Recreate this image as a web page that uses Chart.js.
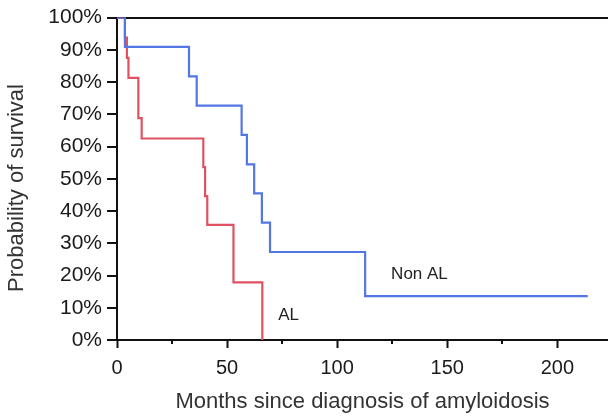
<!DOCTYPE html>
<html>
<head>
<meta charset="utf-8">
<script src="https://cdn.jsdelivr.net/npm/chart.js@4/dist/chart.umd.min.js"></script>
<style>
  html, body { margin: 0; padding: 0; background: #fff; }
  #wrap { width: 608px; height: 419px; position: relative; }
</style>
</head>
<body>
<div id="wrap"><canvas id="kmChart"></canvas></div>
<script>
// Kaplan-Meier steps (months, survival %)
const nonAlMonths   = [0, 3.6, 32.7, 36.2, 56.6, 59.0, 62.3, 65.8, 69.5, 112.7, 213.8];
const nonAlSurvival = [100, 90.9, 81.8, 72.7, 63.6, 54.5, 45.5, 36.4, 27.3, 13.6, 13.6];
const alMonths      = [0, 3.6, 4.5, 5.2, 9.7, 11.2, 39.2, 40.0, 41.0, 52.9, 66.0];
const alSurvival    = [100, 93.8, 87.5, 81.3, 68.8, 62.5, 53.6, 44.6, 35.7, 17.9, 0];

// Axis ticks
const xMajorTicks = [0, 50, 100, 150, 200];
const xMinorTicks = [25, 75, 125, 175];
const yTickValues = [0, 10, 20, 30, 40, 50, 60, 70, 80, 90, 100];

// Curve labels (months, survival %)
const curveLabels = [
    { text: 'Non AL', x: 124.5, y: 20.5 },
    { text: 'AL', x: 73.2, y: 7.8 }
];

const FONT = '"Liberation Sans", Arial, sans-serif';
const INK = '#111';

const toPoints = (xs, ys) => xs.map((x, i) => ({ x, y: ys[i] }));

// Minor x ticks + text labels near the curves
const extrasPlugin = {
    id: 'kmExtras',
    afterDraw(chart) {
        const { ctx, scales: { x, y } } = chart;
        ctx.save();
        ctx.strokeStyle = INK;
        ctx.lineWidth = 2;
        xMinorTicks.forEach(v => {
            const px = Math.round(x.getPixelForValue(v));
            ctx.beginPath();
            ctx.moveTo(px, y.bottom);
            ctx.lineTo(px, y.bottom + 4);
            ctx.stroke();
        });
        ctx.font = `17px ${FONT}`;
        ctx.fillStyle = '#222';
        ctx.textBaseline = 'middle';
        curveLabels.forEach(l => {
            ctx.fillText(l.text, x.getPixelForValue(l.x), y.getPixelForValue(l.y));
        });
        ctx.restore();
    }
};

// Chart.js Setup
function initChart() {
    const ctx = document.getElementById('kmChart').getContext('2d');
    return new Chart(ctx, {
        type: 'line',
        data: {
            datasets: [
                {
                    label: 'Non AL',
                    data: toPoints(nonAlMonths, nonAlSurvival),
                    borderColor: 'rgb(82, 118, 228)',
                    borderWidth: 2.2,
                    stepped: 'before',
                    pointRadius: 0,
                    fill: false
                },
                {
                    label: 'AL',
                    data: toPoints(alMonths, alSurvival),
                    borderColor: 'rgb(222, 82, 98)',
                    borderWidth: 2.2,
                    stepped: 'before',
                    pointRadius: 0,
                    fill: false
                }
            ]
        },
        options: {
            responsive: true,
            maintainAspectRatio: false,
            animation: false,
            layout: { padding: { top: 16, right: 0, left: 0, bottom: 0 } },
            plugins: {
                legend: { display: false },
                tooltip: { enabled: false }
            },
            scales: {
                x: {
                    type: 'linear',
                    min: 0,
                    max: 223,
                    afterBuildTicks: s => { s.ticks = xMajorTicks.map(v => ({ value: v })); },
                    ticks: { color: '#1a1a1a', font: { size: 20, family: FONT }, padding: 8, maxRotation: 0 },
                    grid: { drawOnChartArea: false, tickLength: 8, tickColor: INK, tickWidth: 2 },
                    border: { color: INK, width: 2 },
                    title: {
                        display: true,
                        text: 'Months since diagnosis of amyloidosis',
                        color: '#333',
                        font: { size: 22, family: FONT },
                        padding: { top: 0, bottom: 4 }
                    },
                    afterFit: s => { s.height = 79; }
                },
                y: {
                    min: 0,
                    max: 100,
                    afterBuildTicks: s => { s.ticks = yTickValues.map(v => ({ value: v })); },
                    ticks: { color: '#1a1a1a', font: { size: 21, family: FONT }, padding: 5, callback: v => v + '%' },
                    grid: {
                        color: c => (c.tick && c.tick.value === 100 ? INK : 'rgba(0,0,0,0)'),
                        lineWidth: 2,
                        tickColor: INK,
                        tickWidth: 2,
                        tickLength: 10
                    },
                    border: { color: INK, width: 2 },
                    title: {
                        display: true,
                        // trailing nbsp nudges the rotated title a little lower, as in the original
                        text: 'Probability of survival\u00A0\u00A0\u00A0',
                        color: '#333',
                        font: { size: 22, family: FONT },
                        padding: { top: 4, bottom: 0 }
                    },
                    afterFit: s => { s.width = 117; }
                }
            }
        },
        plugins: [extrasPlugin]
    });
}

window.addEventListener('DOMContentLoaded', initChart);
</script>
</body>
</html>
